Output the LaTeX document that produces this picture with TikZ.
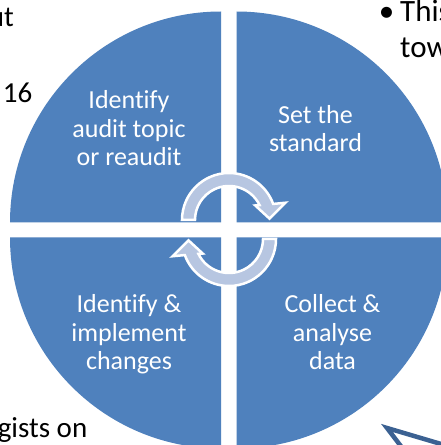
\documentclass[tikz,border=0pt]{standalone}
\usepackage{fontspec}
\setmainfont{Carlito}[Ligatures=NoCommon]
\definecolor{quadblue}{HTML}{4F81BD}
\definecolor{arrowlight}{HTML}{B7C6E1}
\definecolor{calloutblue}{HTML}{3B6192}
\tikzset{
  quad/.style={fill=quadblue, draw=none},
  cyclearrow/.style={fill=arrowlight, draw=white, line width=2.5pt, line join=miter},
  quadtext/.style={text=white, align=center, inner sep=0pt, font=\fontsize{26}{28.5}\selectfont},
  sidetext/.style={text=black, inner sep=0pt, font=\fontsize{29}{36}\selectfont},
  sidetextr/.style={text=black, inner sep=0pt, font=\fontsize{31}{36}\selectfont},
  callout/.style={draw=calloutblue, line width=4.5pt, line join=miter}
}
\begin{document}
\begin{tikzpicture}[x=1pt,y=1pt]
\clip (0,0) rectangle (441,445);
\fill[white] (0,0) rectangle (441,445);
% quadrants
\path[quad] (221,222.5) -- ++(-211,0) arc[start angle=180,end angle=90,radius=211] -- cycle;
\path[quad] (236.5,222.5) -- ++(0,211) arc[start angle=90,end angle=0,radius=211] -- cycle;
\path[quad] (221,207.5) -- ++(-211,0) arc[start angle=180,end angle=270,radius=211] -- cycle;
\path[quad] (236.5,207.5) -- ++(0,-211) arc[start angle=270,end angle=360,radius=211] -- cycle;
% circular arrows
\begin{scope}[shift={(229,225)}]
\filldraw[cyclearrow] (180:47) arc[start angle=180,end angle=20,radius=47] -- (17:59) -- (2:40.5) -- (29:30) -- (26:34) arc[start angle=26,end angle=180,radius=34] -- cycle;
\end{scope}
\begin{scope}[shift={(229,206)},rotate=180]
\filldraw[cyclearrow] (180:47) arc[start angle=180,end angle=20,radius=47] -- (17:59) -- (2:40.5) -- (29:30) -- (26:34) arc[start angle=26,end angle=180,radius=34] -- cycle;
\end{scope}
% quadrant texts
\node[quadtext] (topic) at (129,313.2) {\strut Identify\\\strut audit topic\\\strut or reaudit};
\node[quadtext] (standard) at (315.5,313) {\strut Set the\\\strut standard};
\node[quadtext] (changes) at (129,109.2) {\strut Identify \&\\\strut implement\\\strut changes};
\node[quadtext] (collect) at (332.5,109.2) {\strut Collect \&\\\strut analyse\\\strut data};
% side text fragments
\node[sidetext, anchor=base east] (frag1) at (14,418) {ut};
\node[sidetext, anchor=base east] (frag2) at (32.5,342) {16};
\node[sidetext, anchor=base east] (frag3) at (87.5,7) {gists on};
\node[sidetextr, anchor=base west] (frag4) at (400,423) {\llap{•\hspace{6pt}}This};
\node[sidetextr, anchor=base west] (frag5) at (400,387) {tow};
% callout corner
\coordinate (cA) at (404,-5.2);
\coordinate (cB) at (387,17);
\coordinate (cC) at (460,-4.6);
\draw[callout] (cA) -- (cB) -- (cC);
\end{tikzpicture}
\end{document}
